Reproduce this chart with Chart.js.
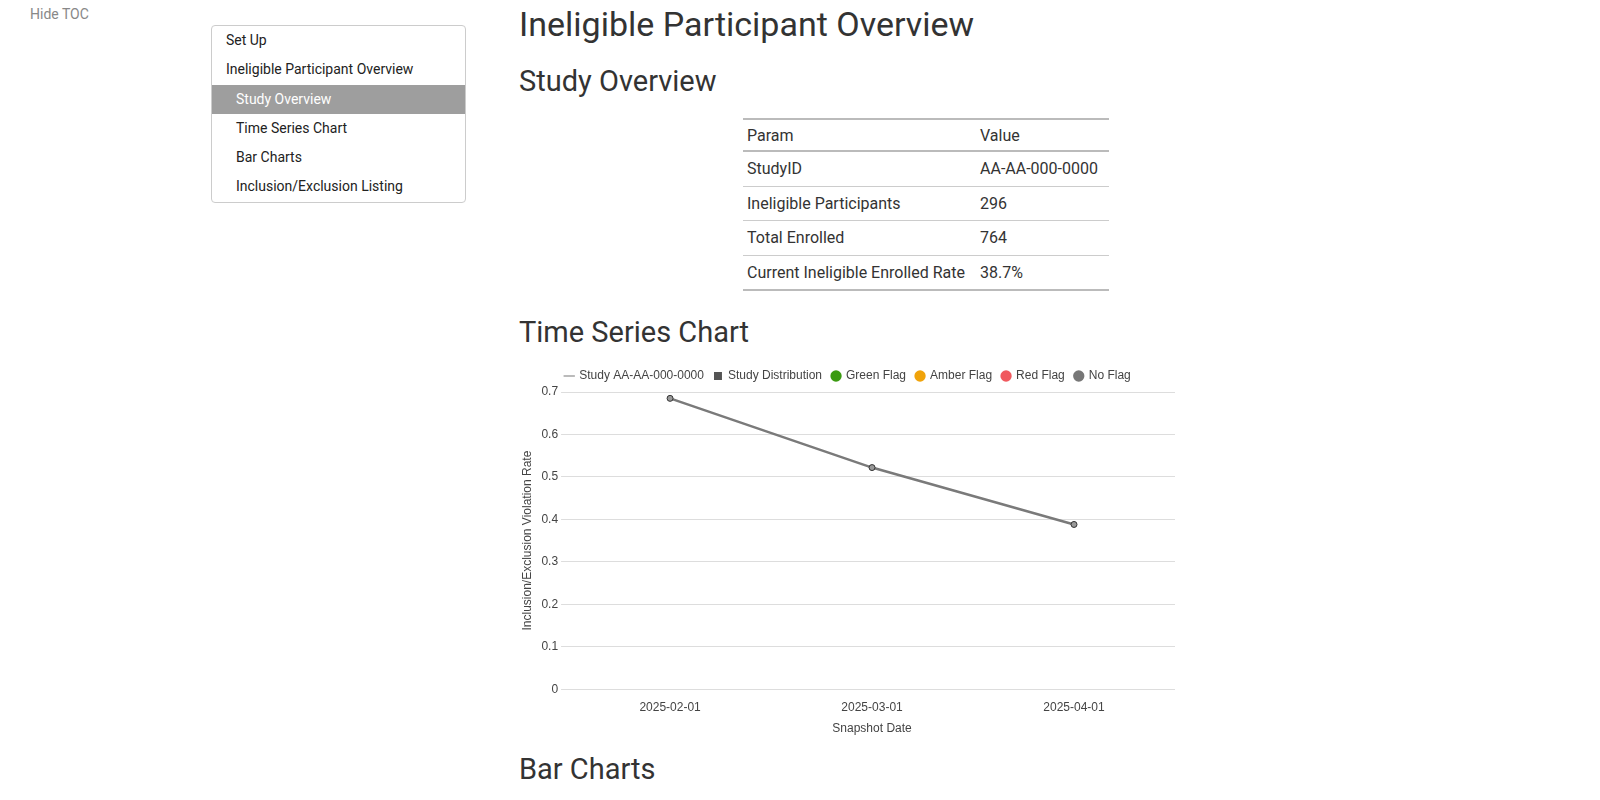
<!DOCTYPE html>
<html><head><meta charset="utf-8">
<script src="https://cdn.jsdelivr.net/npm/chart.js@4"></script>
<style>
body{margin:0;width:1600px;height:800px;overflow:hidden;font-family:Roboto,"Open Sans",sans-serif;color:#333;background:#fff;position:relative}
#hide{position:absolute;left:30px;top:6px;font-size:14px;color:#888}
#toc{position:absolute;left:211px;top:25px;width:253px;border:1px solid #ccc;border-radius:4px;font-size:14px;padding:0}
#toc div{height:29.3px;line-height:29.3px;padding-left:14px;color:#222}
#toc div.s{padding-left:24px}
#toc div.act{background:#9e9e9e;color:#fff}
h1{position:absolute;left:519px;top:4px;margin:0;font-size:34px;font-weight:400}
h2{position:absolute;left:519px;margin:0;font-size:29px;font-weight:400}
table{position:absolute;left:743px;top:118px;border-collapse:collapse;font-size:16px;border-top:2px solid #bbb;border-bottom:2px solid #bbb}
td{padding:0 4px;height:33.5px;border-top:1px solid #ccc}
tr:first-child td{border-top:none;height:30px}
tr:nth-child(2) td{border-top:2px solid #bbb}
#wrap{position:absolute;left:516px;top:360px;width:664px;height:380px}
</style></head><body>
<div id="hide">Hide TOC</div>
<div id="toc">
<div>Set Up</div><div>Ineligible Participant Overview</div>
<div class="s act">Study Overview</div><div class="s">Time Series Chart</div>
<div class="s">Bar Charts</div><div class="s">Inclusion/Exclusion Listing</div>
</div>
<h1>Ineligible Participant Overview</h1>
<h2 style="top:64px">Study Overview</h2>
<table>
<tr><td style="width:225px">Param</td><td style="width:125px">Value</td></tr>
<tr><td>StudyID</td><td>AA-AA-000-0000</td></tr>
<tr><td>Ineligible Participants</td><td>296</td></tr>
<tr><td>Total Enrolled</td><td>764</td></tr>
<tr><td>Current Ineligible Enrolled Rate</td><td>38.7%</td></tr>
</table>
<h2 style="top:315px">Time Series Chart</h2>
<div id="wrap"><canvas id="c"></canvas></div>
<h2 style="top:752px">Bar Charts</h2>
<script>
const dates=["2025-02-01","2025-03-01","2025-04-01"];
const rates=[0.685,0.522,0.388];
const legendNames=["Study AA-AA-000-0000","Study Distribution","Green Flag","Amber Flag","Red Flag","No Flag"];
const legendColors=["#bbb","#555","#3a9a10","#f0a30a","#f0595e","#777"];
const legendStyles=["line","rect","circle","circle","circle","circle"];
Chart.defaults.font.family="'Liberation Sans',Arial,sans-serif";
Chart.defaults.font.size=12;
Chart.defaults.color="#444";
new Chart(document.getElementById('c'),{type:'line',
data:{labels:dates,datasets:[{label:legendNames[0],data:rates,borderColor:'#7a7a7a',borderWidth:2.5,
pointBackgroundColor:'#999',pointBorderColor:'#333',pointBorderWidth:1,pointRadius:3,tension:0}]},
options:{responsive:true,maintainAspectRatio:false,animation:false,
plugins:{legend:{labels:{usePointStyle:true,boxWidth:8,boxHeight:8,padding:10,
generateLabels:()=>legendNames.map((n,i)=>({text:n,fillStyle:legendColors[i],strokeStyle:legendColors[i],lineWidth:legendStyles[i]=='line'?2:0,pointStyle:legendStyles[i]=='line'?'line':legendStyles[i]=='rect'?'rect':'circle',fontColor:'#444'}))}}},
scales:{x:{offset:true,grid:{display:false},border:{display:false},title:{display:true,text:'Snapshot Date'}},
y:{min:0,max:0.7,ticks:{stepSize:0.1},border:{display:false},grid:{color:'#ddd',borderDash:[3,3]},
title:{display:true,text:'Inclusion/Exclusion Violation Rate'}}}}});
</script>
</body></html>
